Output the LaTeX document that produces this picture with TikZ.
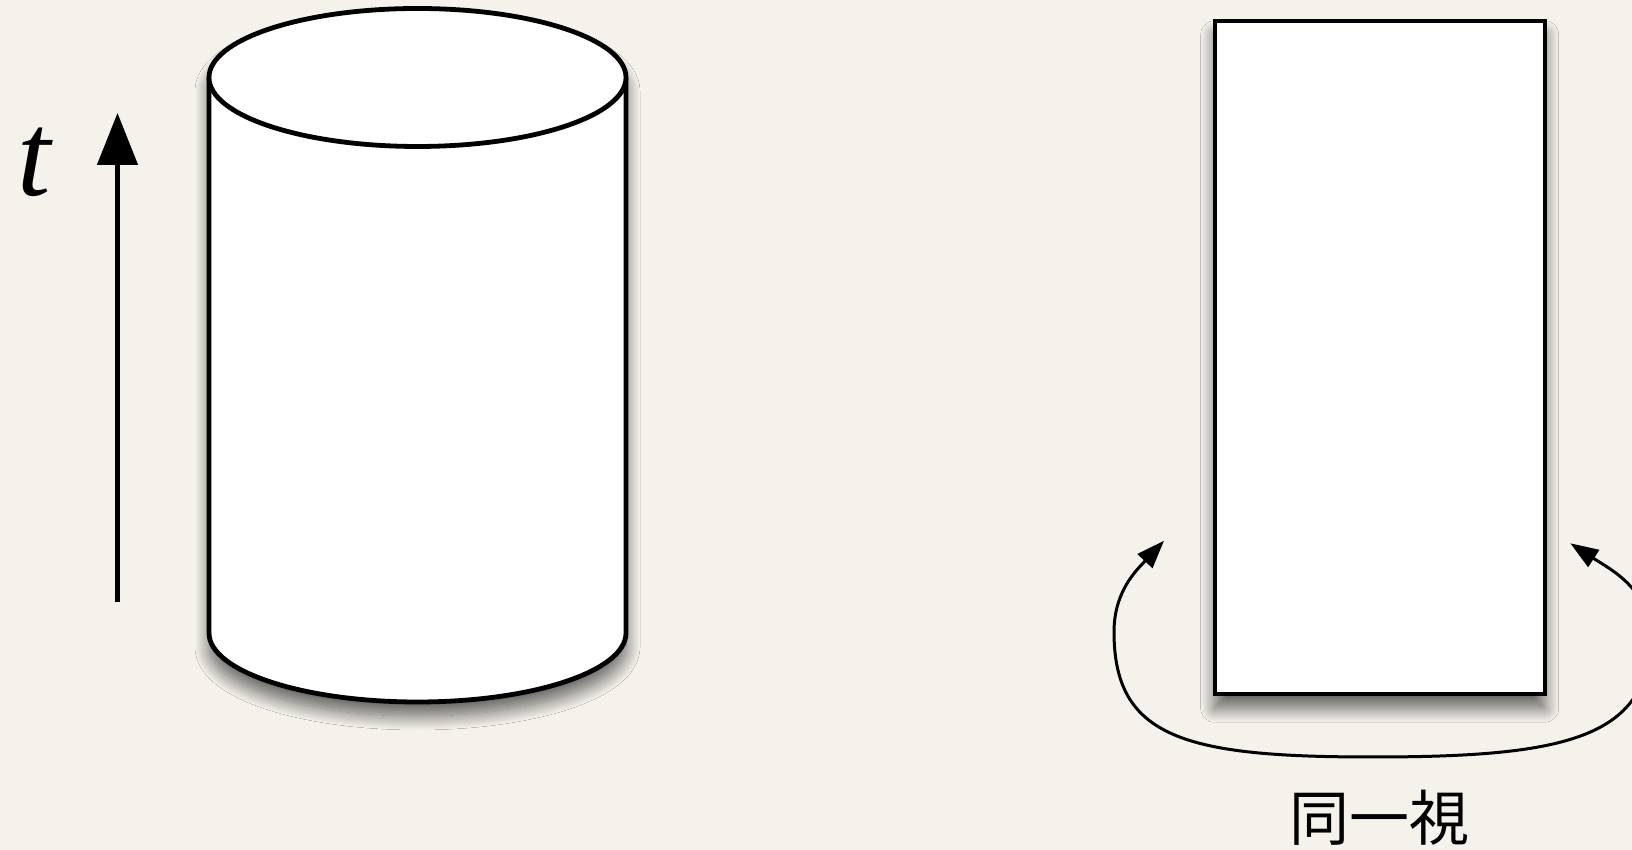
\documentclass[tikz,border=0pt]{standalone}
\usepackage{fontspec}
\setmainfont{Liberation Serif}
\newfontfamily\cjkfont{Noto Sans CJK JP}
\usepackage{xcolor}
\usepackage{tikz}
\usetikzlibrary{arrows.meta, positioning, shadows.blur}
\definecolor{paper}{RGB}{245,242,236}

\begin{document}
\begin{tikzpicture}[
  x=0.5pt, y=0.5pt,
  softshadow/.style={
    blur shadow={shadow xshift=0pt, shadow yshift=-7pt,
      shadow blur radius=7pt, shadow opacity=60, shadow blur steps=20}
  },
  outline/.style={
    draw=black,
    line width=2.4pt
  },
  sheet/.style={
    draw=black,
    fill=white,
    line width=1.8pt,
    inner sep=0pt,
    minimum width=165pt,
    minimum height=336.75pt,
    softshadow
  },
  timearrow/.style={
    draw=black,
    -{Triangle[length=26pt, width=20pt]},
    line width=2.4pt
  },
  looparrow/.style={
    draw=black,
    {Triangle[length=14pt, width=10pt]}-{Triangle[length=14pt, width=10pt]},
    line width=1.5pt
  }
]

% Background
\useasboundingbox (0,0) rectangle (1632,850);
\fill[paper] (0,0) rectangle (1632,850);
\clip (0,0) rectangle (1632,850);

% Time axis
\coordinate (tbottom) at (117.5,248);
\coordinate (ttop) at (117.5,737);
\draw[timearrow] (tbottom) -- (ttop);
\node[font=\fontsize{60}{60}\selectfont\itshape] (tlabel) at (34,688) {t};

% Cylinder
\coordinate (cyltop) at (417.5,772.5);
\coordinate (cylbottom) at (417.5,217);
\path[fill=white, softshadow] (209,772.5) -- (209,217)
  arc[start angle=180, end angle=360, x radius=208.5, y radius=69]
  -- (626,772.5)
  arc[start angle=0, end angle=180, x radius=208.5, y radius=69] -- cycle;
\draw[outline] (209,772.5) -- (209,217)
  arc[start angle=180, end angle=360, x radius=208.5, y radius=69]
  -- (626,772.5);
\draw[outline, fill=white] (cyltop) ellipse [x radius=208.5, y radius=69];

% Sheet
\node[sheet] (sheet) at (1379.7,492.5) {};

% Identification arrow
\coordinate (lefttip) at (1164,309.3);
\coordinate (leftmost) at (1114,218);
\coordinate (lowest) at (1372,93);
\coordinate (rightmost) at (1650,213);
\coordinate (righttip) at (1570.3,306.7);
\draw[looparrow] (lefttip) to[out=227, in=90] (leftmost)
  .. controls (1114,112) and (1185,93) .. (lowest)
  .. controls (1560,93) and (1650,110) .. (rightmost)
  to[out=90, in=327] (righttip);

% Bottom label
\node[font=\cjkfont\fontsize{30}{30}\selectfont] (samelabel) at (1379,32) {同一視};

\end{tikzpicture}
\end{document}
